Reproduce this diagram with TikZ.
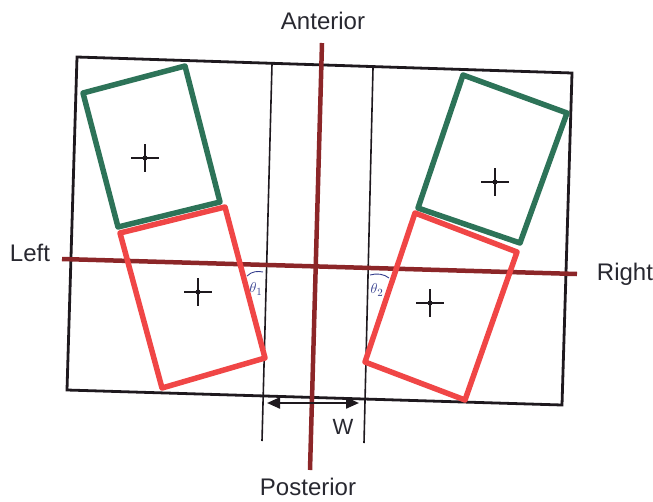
\documentclass[tikz,border=0pt]{standalone}
\usepackage{fontspec}
\setmainfont{Liberation Sans}
\usetikzlibrary{arrows.meta}
\definecolor{axisbrown}{RGB}{140,38,40}
\definecolor{boxgreen}{RGB}{45,115,88}
\definecolor{boxred}{RGB}{240,70,70}
\definecolor{frameblack}{RGB}{30,25,30}
\definecolor{angleblue}{RGB}{50,60,140}
\definecolor{labelgray}{RGB}{40,40,48}
\begin{document}
\begin{tikzpicture}[x=1pt,y=-1pt,
  frameline/.style={draw=frameblack,line width=2.8pt,line join=miter},
  guideline/.style={draw=frameblack,line width=1.6pt},
  axisline/.style={draw=axisbrown,line width=4.5pt},
  greenbox/.style={draw=boxgreen,line width=5.5pt,line join=round},
  redbox/.style={draw=boxred,line width=5.5pt,line join=round},
  lbl/.style={font=\fontsize{24}{28}\selectfont,text=labelgray,inner sep=0pt},
  anglelbl/.style={font=\fontsize{15}{17}\selectfont,text=angleblue,inner sep=0pt},
  anglearc/.style={draw=angleblue,line width=0.9pt},
  crossmark/.pic={\draw[line width=1.6pt,frameblack] (-14,0)--(14,0) (0,-14)--(0,14);
                  \fill[frameblack] (0,0) circle (2.5);}
]
\useasboundingbox (0,0) rectangle (653,501);

% frame
\draw[frameline] (77,57) -- (572,73) -- (562,405) -- (67,390) -- cycle;

% thin guide lines
\coordinate (gl1) at (272,64);  \coordinate (gl2) at (262,441);
\coordinate (gr1) at (373,68);  \coordinate (gr2) at (364,443);
\draw[guideline] (gl1) -- (gl2);
\draw[guideline] (gr1) -- (gr2);

% labels
\node[lbl] (ant) at (323,21) {Anterior};
\node[lbl] (post) at (308,487) {Posterior};
\node[lbl] (left) at (30,253) {Left};
\node[lbl] (right) at (625,274) {Right};
\node[font=\fontsize{22}{26}\selectfont,text=labelgray,inner sep=0pt] (wlab) at (343,427) {W};

% axes
\coordinate (at) at (322,43); \coordinate (ab) at (310,470);
\coordinate (al) at (62,259); \coordinate (ar) at (577,274);
\draw[axisline] (at) -- (ab);
\draw[axisline] (al) -- (ar);

% boxes
\draw[greenbox] (83,93) -- (185,66) -- (220,202) -- (118,227) -- cycle;
\draw[redbox] (120,233) -- (225,207) -- (265,358) -- (162,388) -- cycle;
\draw[greenbox] (463,75) -- (567,113) -- (520,243) -- (418,208) -- cycle;
\draw[redbox] (415,213) -- (517,252) -- (465,400) -- (365,362) -- cycle;

% centre marks
\pic at (145,158) {crossmark};
\pic at (198,292) {crossmark};
\pic at (495,182) {crossmark};
\pic at (430,303) {crossmark};

% angles
\draw[anglearc] (247,276) .. controls (252,271) and (258,271) .. (263,272);
\draw[anglearc] (370,275) .. controls (377,273) and (384,274) .. (389,278);
\node[anglelbl] (th1) at (256,289) {$\theta_1$};
\node[anglelbl] (th2) at (377,290) {$\theta_2$};

% width arrow
\coordinate (wl) at (267,403); \coordinate (wr) at (359,403);
\draw[{Triangle[length=13pt,width=11pt]}-{Triangle[length=13pt,width=11pt]},line width=2.2pt,draw=frameblack,fill=frameblack] (wl) -- (wr);
\end{tikzpicture}
\end{document}
